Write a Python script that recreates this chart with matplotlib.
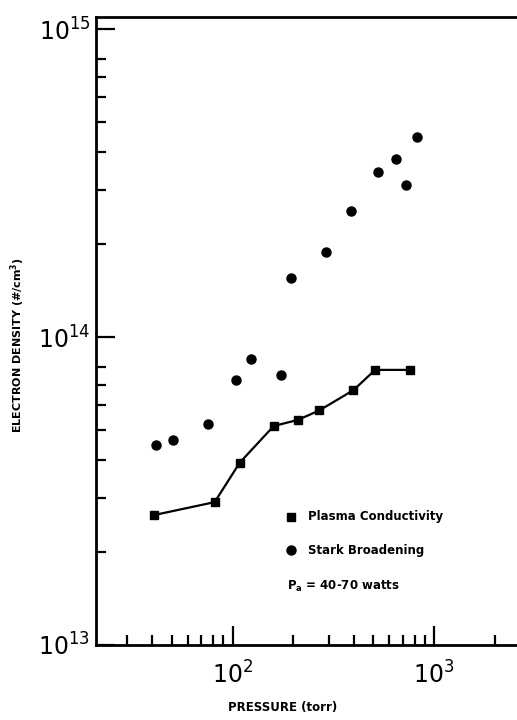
import numpy as np
import matplotlib
matplotlib.use('Agg')
import matplotlib.pyplot as plt
from matplotlib.ticker import LogLocator, NullFormatter

# Plasma conductivity (squares joined by a line)
cond_pressure = [40.6, 81.5, 108.6, 160, 211, 270, 398, 510, 760]
cond_density = [2.64e13, 2.91e13, 3.91e13, 5.14e13, 5.38e13, 5.78e13, 6.72e13, 7.82e13, 7.82e13]

# Stark broadening (circles)
stark_pressure = [41.6, 50.5, 75.8, 103.5, 124, 173, 194, 292, 387, 524, 649, 727, 820]
stark_density = [4.46e13, 4.63e13, 5.21e13, 7.24e13, 8.51e13, 7.52e13, 1.56e14,
                  1.89e14, 2.56e14, 3.43e14, 3.78e14, 3.12e14, 4.46e14]

legend_labels = ['Plasma Conductivity', 'Stark Broadening']
power_note = r'P$_{\mathregular{a}}$ = 40-70 watts'

plt.rcParams['font.family'] = ['DejaVu Sans']

fig = plt.figure(figsize=(5.17, 7.2), dpi=100)
ax = fig.add_axes([96/517, 1 - 645/720, 1 - 96/517, (645 - 17)/720])

ax.plot(cond_pressure, cond_density, color='black', lw=1.6,
        marker='s', markersize=5.5, zorder=3)
ax.plot(stark_pressure, stark_density, ls='none', color='black',
        marker='o', markersize=6.5, zorder=3)

ax.set_xscale('log')
ax.set_yscale('log')
ax.set_xlim(21, 2580)
ax.set_ylim(1e13, 10**15.039)

ax.spines['right'].set_visible(False)
for s in ['top', 'left', 'bottom']:
    ax.spines[s].set_linewidth(2)

ax.xaxis.set_major_locator(LogLocator(base=10, numticks=10))
ax.xaxis.set_minor_locator(LogLocator(base=10, subs=np.arange(2, 10), numticks=20))
ax.yaxis.set_major_locator(LogLocator(base=10, numticks=10))
ax.yaxis.set_minor_locator(LogLocator(base=10, subs=np.arange(2, 9), numticks=20))
ax.xaxis.set_minor_formatter(NullFormatter())
ax.yaxis.set_minor_formatter(NullFormatter())

ax.tick_params(which='both', direction='in', top=False, right=False, width=1.6)
ax.tick_params(which='major', length=14)
ax.tick_params(which='minor', length=7)
ax.tick_params(axis='x', which='major', pad=12, labelsize=17)
ax.tick_params(axis='y', which='major', pad=4, labelsize=17)

ax.set_xticks([1e2, 1e3])
ax.set_xticklabels([r'$\mathregular{10^{2}}$', r'$\mathregular{10^{3}}$'])
ax.set_yticks([1e13, 1e14, 1e15])
ax.set_yticklabels([r'$\mathregular{10^{13}}$', r'$\mathregular{10^{14}}$',
                    r'$\mathregular{10^{15}}$'])

ax.set_xlabel('PRESSURE (torr)', fontsize=8.5, fontweight='bold')
ax.xaxis.set_label_coords((283 - 96)/421, -(701 - 645)/628)
fig.text(18/517, 1 - 345/720, r'ELECTRON DENSITY (#/cm$^{\mathregular{3}}$)',
         rotation=90, ha='center', va='center', fontsize=8, fontweight='bold')

# legend drawn by hand
ax.plot([0.463], [0.204], transform=ax.transAxes, marker='s', color='black',
        markersize=5.5, clip_on=False)
ax.plot([0.463], [0.151], transform=ax.transAxes, marker='o', color='black',
        markersize=6.5, clip_on=False)
ax.text(0.504, 0.204, legend_labels[0], transform=ax.transAxes, va='center',
        fontsize=8.5, fontweight='bold')
ax.text(0.504, 0.151, legend_labels[1], transform=ax.transAxes, va='center',
        fontsize=8.5, fontweight='bold')
ax.text(0.454, 0.093, power_note, transform=ax.transAxes, va='center',
        fontsize=8.5, fontweight='bold')

fig.savefig('out.png', dpi=100)
